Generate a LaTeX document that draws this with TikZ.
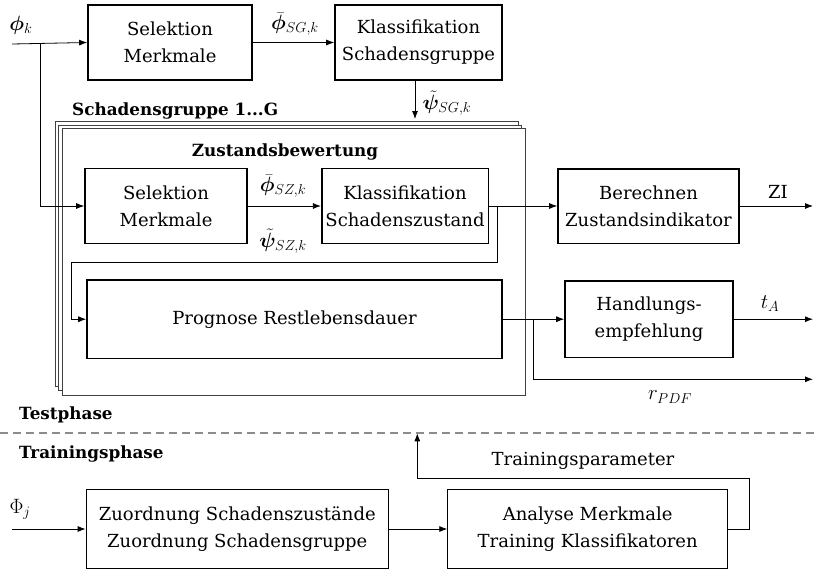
\documentclass[tikz,border=0pt]{standalone}
\usepackage{amsmath}
\usepackage{bm}
\usepackage{fontspec}
\setmainfont{DejaVu Serif}
\usetikzlibrary{arrows.meta}
\begin{document}
\begin{tikzpicture}[x=1pt,y=-1pt,
  font=\fontsize{18}{27}\selectfont,
  thickbox/.style={draw,line width=1.6pt,align=center,inner sep=2pt},
  thinbox/.style={draw,line width=0.8pt,align=center,inner sep=2pt},
  conn/.style={line width=0.8pt,-{Latex[length=8pt,width=6pt]}},
  stackbox/.style={draw=black!75,line width=0.8pt,fill=white},
  head/.style={font=\fontsize{16.8}{22}\selectfont\bfseries,inner sep=0pt},
  lbl/.style={inner sep=1pt,font=\fontsize{20}{24}\selectfont}]
\useasboundingbox (0,0) rectangle (818,570);

% stacked group boxes
\draw[stackbox] (55,121.7) rectangle (518,386.7);
\draw[stackbox] (58.7,125) rectangle (521.5,390.5);
\draw[stackbox] (62,128.3) rectangle (525,395);

\node[head,anchor=south west] (sg) at (72,119) {Schadensgruppe 1...G};
\node[head] (zb) at (285,152) {Zustandsbewertung};

% top row
\node[thickbox,minimum width=164pt,minimum height=75pt] (sel1) at (170,42.5) {Selektion\\Merkmale};
\node[thickbox,minimum width=167pt,minimum height=75pt] (kl1) at (418.5,42.5) {Klassifikation\\Schadensgruppe};

% inner row
\node[thickbox,minimum width=162pt,minimum height=75pt] (sel2) at (166,206) {Selektion\\Merkmale};
\node[thickbox,minimum width=166.6pt,minimum height=75pt] (kl2) at (405,206) {Klassifikation\\Schadenszustand};
\node[thickbox,minimum width=181pt,minimum height=74.6pt] (ber) at (648.5,206) {Berechnen\\Zustandsindikator};
\node[thickbox,minimum width=415pt,minimum height=78.3pt] (prog) at (294.5,319.2) {Prognose Restlebensdauer};
\node[thickbox,minimum width=168pt,minimum height=76.3pt] (hand) at (649,319.2) {Handlungs-\\empfehlung};

% training
\node[thinbox,minimum width=302.6pt,minimum height=79pt] (zu) at (237.3,529) {Zuordnung Schadenszustände\\Zuordnung Schadensgruppe};
\node[thinbox,minimum width=280pt,minimum height=79pt] (an) at (587.7,529) {Analyse Merkmale\\Training Klassifikatoren};

% coordinates
\coordinate (in1) at (12,44);
\coordinate (br1) at (40,44);
\coordinate (br1b) at (40,206);
\coordinate (kd1) at (415,80);
\coordinate (kd2) at (415,119);
\coordinate (lp1) at (497,206);
\coordinate (lp2) at (497,262.3);
\coordinate (lp3) at (71,262.3);
\coordinate (lp4) at (71,319.2);
\coordinate (zio) at (813,206);
\coordinate (pb) at (533,319.2);
\coordinate (pb2) at (533,379.3);
\coordinate (ro) at (813,379.3);
\coordinate (to) at (813,319.2);
\coordinate (in2) at (12,529);
\coordinate (tp1) at (749.6,529);
\coordinate (tp2) at (749.6,478.3);
\coordinate (tp3) at (417.3,478.3);
\coordinate (tp4) at (417.3,433.3);

% connectors
\draw[conn] (in1) -- (sel1.west);
\draw[conn] (br1) -- (br1b) -- (sel2.west);
\draw[conn] (sel1.east) -- (kl1.west);
\draw[conn] (kd1) -- (kd2);
\draw[conn] (sel2.east) -- (kl2.west);
\draw[conn] (kl2.east) -- (ber.west);
\draw[conn] (kl2.east) -- (lp1) -- (lp2) -- (lp3) -- (lp4) -- (prog.west);
\draw[conn] (ber.east) -- (zio);
\draw[conn] (prog.east) -- (hand.west);
\draw[conn] (pb) -- (pb2) -- (ro);
\draw[conn] (hand.east) -- (to);
\draw[conn] (in2) -- (zu.west);
\draw[conn] (zu.east) -- (an.west);
\draw[conn] (an.east) -- (tp1) -- (tp2) -- (tp3) -- (tp4);

% dashed separator
\coordinate (dl) at (0,433.3);
\coordinate (dr) at (818,433.3);
\draw[black!45,line width=2pt,dash pattern=on 8pt off 5pt] (dl) -- (dr);

% labels
\node[lbl] (lphik) at (21,25) {$\bm{\phi}_k$};
\node[lbl] (lphisg) at (295,24) {$\bar{\bm{\phi}}_{SG,k}$};
\node[lbl] (lpsisg) at (447,103) {$\tilde{\bm{\psi}}_{SG,k}$};
\node[lbl] (lphisz) at (283,186) {$\bar{\bm{\phi}}_{SZ,k}$};
\node[lbl] (lpsisz) at (283,241) {$\tilde{\bm{\psi}}_{SZ,k}$};
\node[lbl,font=\fontsize{18}{24}\selectfont] (lzi) at (778,192) {ZI};
\node[lbl] (lta) at (770,304) {$t_A$};
\node[lbl] (lr) at (670,397) {$r_{PDF}$};
\node[lbl] (lPhij) at (20,509) {$\Phi_j$};
\node[inner sep=1pt] (ltp) at (583,461) {Trainingsparameter};
\node[head,anchor=base west] (ltest) at (19,419) {Testphase};
\node[head,anchor=base west] (ltrain) at (19,458) {Trainingsphase};
\end{tikzpicture}
\end{document}
